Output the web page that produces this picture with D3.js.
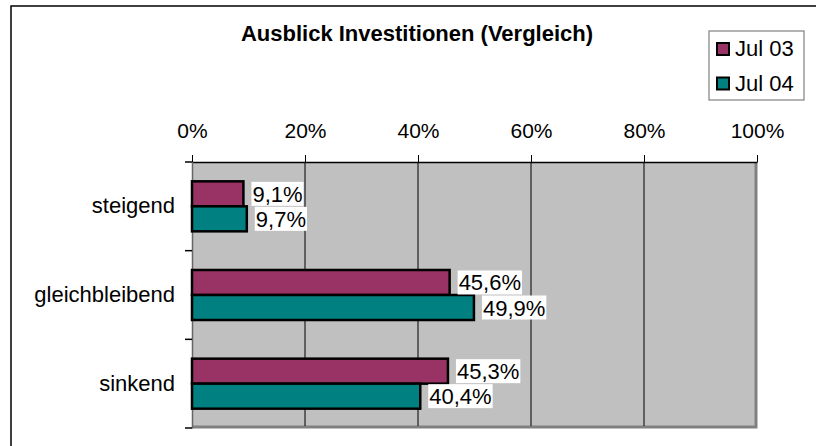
<!DOCTYPE html>
<html>
<head>
<meta charset="utf-8">
<script src="https://cdn.jsdelivr.net/npm/d3@7"></script>
<style>
  body { margin: 0; background: #fff; }
  svg text { font-family: Arial, "Liberation Sans", sans-serif; fill: #000; }
</style>
</head>
<body>
<svg id="chart" width="816" height="446"></svg>
<script>
// ---------------- données ----------------
var categories = ["steigend", "gleichbleibend", "sinkend"];
var series = ["Jul 03", "Jul 04"];
var valeursJul03 = [0.091, 0.456, 0.453];
var valeursJul04 = [0.097, 0.499, 0.404];
var couleurs = ["#993366", "#008080"];
var ticks = [0, 0.2, 0.4, 0.6, 0.8, 1];
var titre = "Ausblick Investitionen (Vergleich)";

var taille = "22px";
var svg = d3.select("#chart");

// cadre du graphique (coupé à droite et en bas)
svg.append("rect")
    .attr("x", 11).attr("y", 6)
    .attr("width", 900).attr("height", 600)
    .attr("fill", "#fff")
    .attr("stroke", "#000")
    .attr("stroke-width", 1.5);

var x = d3.scaleLinear().domain([0, 1]).range([192, 757]);
var y = d3.scaleBand().domain(categories).range([162, 428])
    .paddingInner(0.436).paddingOuter(0.218);
var ySerie = d3.scaleBand().domain(series).range([0, y.bandwidth()]);

// zone de tracé
svg.append("rect")
    .attr("x", x(0)).attr("y", 162)
    .attr("width", x(1) - x(0)).attr("height", 428 - 162)
    .attr("fill", "#c0c0c0");
svg.append("path")
    .attr("d", "M" + (x(1) - 1) + ",162 V" + 427 + " H" + x(0))
    .attr("fill", "none")
    .attr("stroke", "#808080")
    .attr("stroke-width", 3);

// quadrillage
svg.append("g").selectAll("line")
    .data(ticks.slice(1, -1))
    .enter().append("line")
    .attr("x1", function(d) { return x(d); })
    .attr("x2", function(d) { return x(d); })
    .attr("y1", 162).attr("y2", 426)
    .attr("stroke", "#000")
    .attr("stroke-width", 1);

// axe des valeurs (en haut)
var axeX = svg.append("g")
    .attr("transform", "translate(0,162)")
    .call(d3.axisTop(x).tickValues(ticks).tickFormat(d3.format(".0%"))
        .tickSize(7).tickSizeOuter(0).tickPadding(17));
axeX.selectAll("text").style("font-size", "21px").attr("fill", "#000");
axeX.select(".domain").attr("stroke", "#000").attr("stroke-width", 1.5);

// axe des catégories
var axeY = svg.append("g")
    .attr("transform", "translate(" + x(0) + ",0)")
    .call(d3.axisLeft(y).tickSize(0).tickPadding(17));
axeY.selectAll("text").style("font-size", taille).attr("fill", "#000");
axeY.select(".domain").attr("stroke", "#666").attr("stroke-width", 1.5);

var limites = d3.range(categories.length + 1).map(function(i) {
    return y.range()[0] + i * y.step();
});
svg.append("g").selectAll("line")
    .data(limites)
    .enter().append("line")
    .attr("x1", x(0) - 7).attr("x2", x(0))
    .attr("y1", function(d) { return d; })
    .attr("y2", function(d) { return d; })
    .attr("stroke", "#000")
    .attr("stroke-width", 1.5);

// barres
var donnees = [];
categories.forEach(function(c, i) {
    donnees.push({ cat: c, serie: series[0], v: valeursJul03[i], couleur: couleurs[0] });
    donnees.push({ cat: c, serie: series[1], v: valeursJul04[i], couleur: couleurs[1] });
});

svg.append("g").selectAll("rect")
    .data(donnees)
    .enter().append("rect")
    .attr("x", x(0))
    .attr("y", function(d) { return y(d.cat) + ySerie(d.serie); })
    .attr("width", function(d) { return x(d.v) - x(0); })
    .attr("height", ySerie.bandwidth())
    .attr("fill", function(d) { return d.couleur; })
    .attr("stroke", "#000")
    .attr("stroke-width", 2.5);

// étiquettes de données
var fmt = function(v) { return (v * 100).toFixed(1).replace(".", ",") + "%"; };
var etiquettes = svg.append("g").selectAll("g")
    .data(donnees)
    .enter().append("g");
etiquettes.append("rect").attr("fill", "#fff");
etiquettes.append("text")
    .attr("x", function(d) { return x(d.v) + 9; })
    .attr("y", function(d) { return y(d.cat) + ySerie(d.serie) + ySerie.bandwidth() / 2 + 8; })
    .style("font-size", taille)
    .text(function(d) { return fmt(d.v); });
etiquettes.each(function() {
    var g = d3.select(this);
    var b = g.select("text").node().getBBox();
    g.select("rect")
        .attr("x", b.x - 1).attr("y", b.y)
        .attr("width", b.width + 2).attr("height", b.height - 1);
});

// titre
svg.append("text")
    .attr("x", 417).attr("y", 41)
    .attr("text-anchor", "middle")
    .style("font-size", taille)
    .style("font-weight", "bold")
    .text(titre);

// légende
var legende = svg.append("g");
legende.append("rect")
    .attr("x", 709).attr("y", 31)
    .attr("width", 95).attr("height", 69)
    .attr("fill", "#fff")
    .attr("stroke", "#808080")
    .attr("stroke-width", 1.2);
var items = legende.selectAll("g.item")
    .data(series)
    .enter().append("g")
    .attr("class", "item")
    .attr("transform", function(d, i) { return "translate(717," + (43 + i * 34.5) + ")"; });
items.append("rect")
    .attr("width", 12).attr("height", 12)
    .attr("fill", function(d, i) { return couleurs[i]; })
    .attr("stroke", "#000")
    .attr("stroke-width", 2);
items.append("text")
    .attr("x", 18).attr("y", 13)
    .style("font-size", taille)
    .text(function(d) { return d; });
</script>
</body>
</html>
